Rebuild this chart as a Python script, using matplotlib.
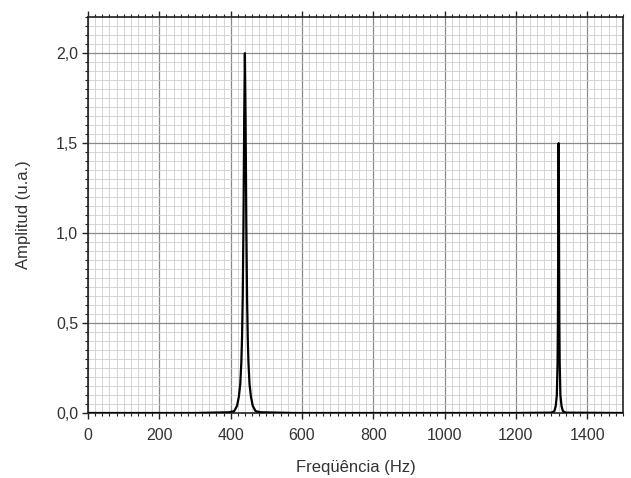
import numpy as np
import matplotlib.pyplot as plt
from matplotlib.ticker import MultipleLocator, FuncFormatter

plt.rcParams["font.family"] = ["Liberation Sans", "DejaVu Sans"]

# spectrum: two narrow peaks (440 Hz and 1320 Hz)
freq = [0, 300, 395, 410, 418, 423, 427, 430, 432, 434, 436, 438, 440,
        442, 444, 446, 448, 450, 453, 457, 462, 470, 485, 580,
        1200, 1300, 1308, 1312, 1315, 1317, 1318, 1319, 1320,
        1321, 1322, 1323, 1325, 1328, 1332, 1340, 1500]
amplitude = [0.0, 0.0, 0.004, 0.01, 0.04, 0.09, 0.16, 0.28, 0.42,
             0.65, 1.05, 1.62, 2.0, 1.62, 1.05, 0.65, 0.42, 0.28, 0.16,
             0.09, 0.04, 0.01, 0.004, 0.0,
             0.0, 0.002, 0.01, 0.04, 0.10, 0.28, 0.52, 1.02, 1.5,
             1.02, 0.52, 0.28, 0.10, 0.04, 0.01, 0.002, 0.0]

X_LIM = (0, 1500)
Y_LIM = (0, 2.2)
TEXT_COLOR = "#333333"

fig = plt.figure(figsize=(6.31, 4.78), dpi=100)
ax = fig.add_axes([0.1395, 0.136, 0.8475, 0.828])

ax.plot(freq, amplitude, color="black", linewidth=1.6, zorder=3)

ax.set_xlim(*X_LIM)
ax.set_ylim(*Y_LIM)

ax.xaxis.set_major_locator(MultipleLocator(200))
ax.xaxis.set_minor_locator(MultipleLocator(20))
ax.yaxis.set_major_locator(MultipleLocator(0.5))
ax.yaxis.set_minor_locator(MultipleLocator(0.05))
ax.yaxis.set_major_formatter(FuncFormatter(lambda v, _: f"{v:.1f}".replace(".", ",")))

ax.grid(True, which="major", color="#8a8a8a", linewidth=0.9)
ax.grid(True, which="minor", color="#cfcfcf", linewidth=0.6)
ax.set_axisbelow(True)

ax.tick_params(which="both", direction="out", top=True, right=False,
               colors="#222222", labelcolor=TEXT_COLOR, labelsize=11.5)
ax.tick_params(which="major", length=4, width=1.0)
ax.tick_params(which="minor", length=2.5, width=0.8)
ax.tick_params(axis="x", which="major", pad=7)
ax.tick_params(axis="y", which="major", pad=3)

for side in ["left", "bottom", "top", "right"]:
    ax.spines[side].set_linewidth(1.2)
    ax.spines[side].set_color("#222222")

ax.set_xlabel("Freqüência (Hz)", fontsize=12, color=TEXT_COLOR, labelpad=12)
ax.set_ylabel("Amplitud (u.a.)", fontsize=12, color=TEXT_COLOR, labelpad=18)

fig.savefig("out.png", dpi=100)
